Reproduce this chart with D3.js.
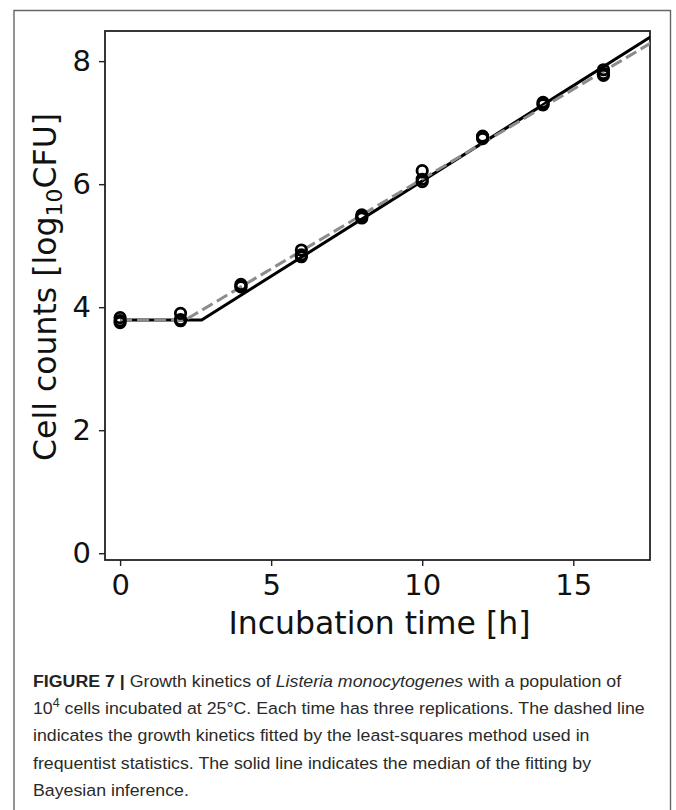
<!DOCTYPE html>
<html>
<head>
<meta charset="utf-8">
<script src="https://cdn.jsdelivr.net/npm/d3@7"></script>
<style>
  html, body { margin: 0; padding: 0; background: #fff; }
  svg { display: block; }
</style>
</head>
<body>
<svg id="chart" width="676" height="810"></svg>
<script>
// ---- data ----
const times = [0, 2, 4, 6, 8, 10, 12, 14, 16];
const rep1 = [3.83, 3.90, 4.37, 4.93, 5.50, 6.22, 6.78, 7.33, 7.86];
const rep2 = [3.78, 3.80, 4.34, 4.85, 5.47, 6.08, 6.76, 7.31, 7.80];
const rep3 = [3.75, 3.78, 4.33, 4.82, 5.45, 6.04, 6.74, 7.29, 7.77];

// fitted curves (breakpoints of the lag + linear growth model)
const bayesTime = [0, 2.7, 18];
const bayesValue = [3.79, 3.79, 8.53];
const lsqTime = [0, 2.15, 18];
const lsqValue = [3.79, 3.79, 8.42];

const xTicks = [0, 5, 10, 15];
const yTicks = [0, 2, 4, 6, 8];
const xLabel = "Incubation time [h]";

// ---- layout ----
const svg = d3.select("#chart");
const plot = { left: 105, right: 650, top: 31, bottom: 560 };

svg.append("rect").attr("width", 676).attr("height", 810).attr("fill", "#fff");

// outer figure frame (open at bottom)
svg.append("path")
  .attr("d", "M14,812 L14,10.5 L670.5,10.5 L670.5,812")
  .attr("fill", "none").attr("stroke", "#666").attr("stroke-width", 1.4);

const x = d3.scaleLinear().domain([-0.5, 17.54]).range([plot.left, plot.right]);
const y = d3.scaleLinear().domain([-0.11, 8.49]).range([plot.bottom, plot.top]);

svg.append("clipPath").attr("id", "clip")
  .append("rect").attr("x", plot.left).attr("y", plot.top)
  .attr("width", plot.right - plot.left).attr("height", plot.bottom - plot.top);

const g = svg.append("g");

// axes
const xAxis = d3.axisBottom(x).tickValues(xTicks).tickSize(6).tickPadding(8).tickFormat(d3.format("d"));
const yAxis = d3.axisLeft(y).tickValues(yTicks).tickSize(6).tickPadding(8).tickFormat(d3.format("d"));

const gx = g.append("g").attr("transform", `translate(0,${plot.bottom})`).call(xAxis);
const gy = g.append("g").attr("transform", `translate(${plot.left},0)`).call(yAxis);
[gx, gy].forEach(a => {
  a.select(".domain").remove();
  a.selectAll(".tick line").attr("stroke", "#222").attr("stroke-width", 1.4);
  a.selectAll(".tick text").attr("font-family", "DejaVu Sans").attr("font-size", 29).attr("fill", "#111");
});
gx.selectAll(".tick text").attr("dy", "0.71em");

// spines (box)
g.append("rect").attr("x", plot.left).attr("y", plot.top)
  .attr("width", plot.right - plot.left).attr("height", plot.bottom - plot.top)
  .attr("fill", "none").attr("stroke", "#222").attr("stroke-width", 1.8);

// lines
const line = d3.line().x(d => x(d[0])).y(d => y(d[1]));
const bayes = bayesTime.map((t, i) => [t, bayesValue[i]]);
const lsq = lsqTime.map((t, i) => [t, lsqValue[i]]);
const lines = g.append("g").attr("clip-path", "url(#clip)");
lines.append("path").datum(bayes).attr("d", line)
  .attr("fill", "none").attr("stroke", "#000").attr("stroke-width", 3);
lines.append("path").datum(lsq).attr("d", line)
  .attr("fill", "none").attr("stroke", "#8c8c8c").attr("stroke-width", 3)
  .attr("stroke-dasharray", "12,5");

// data points
const pts = [];
[rep1, rep2, rep3].forEach(r => r.forEach((v, i) => pts.push([times[i], v])));
g.append("g").selectAll("circle").data(pts).join("circle")
  .attr("cx", d => x(d[0])).attr("cy", d => y(d[1])).attr("r", 5.2)
  .attr("fill", "none").attr("stroke", "#000").attr("stroke-width", 2.8);

// axis labels
g.append("text").attr("x", (plot.left + plot.right) / 2 + 2).attr("y", 634)
  .attr("text-anchor", "middle").attr("font-family", "DejaVu Sans").attr("font-size", 31.5)
  .attr("fill", "#111").text(xLabel);

const yl = g.append("text").attr("transform", `translate(56,${287}) rotate(-90)`)
  .attr("text-anchor", "middle").attr("font-family", "DejaVu Sans").attr("font-size", 31.5)
  .attr("fill", "#111");
yl.append("tspan").text("Cell counts [log");
yl.append("tspan").attr("font-size", 22).attr("dy", 6).text("10");
yl.append("tspan").attr("dy", -6).text("CFU]");

// caption
const cap = svg.append("g").attr("font-family", "Liberation Sans").attr("fill", "#2a2a2a");
const capX = 33, capY0 = 687, capDy = 27.2;
const c1 = cap.append("text").attr("x", capX).attr("y", capY0);
c1.append("tspan").attr("font-weight", "bold").attr("fill", "#222").text("FIGURE 7 |");
c1.append("tspan").text(" Growth kinetics of ");
c1.append("tspan").attr("font-style", "italic").text("Listeria monocytogenes");
c1.append("tspan").text(" with a population of");
const c2 = cap.append("text").attr("x", capX).attr("y", capY0 + capDy);
c2.append("tspan").text("10");
c2.append("tspan").attr("font-size", "0.7em").attr("dy", -7).text("4");
c2.append("tspan").attr("dy", 7).text(" cells incubated at 25°C. Each time has three replications. The dashed line");
cap.append("text").attr("x", capX).attr("y", capY0 + 2 * capDy)
  .text("indicates the growth kinetics fitted by the least-squares method used in");
cap.append("text").attr("x", capX).attr("y", capY0 + 3 * capDy)
  .text("frequentist statistics. The solid line indicates the median of the fitting by");
cap.append("text").attr("x", capX).attr("y", capY0 + 4 * capDy)
  .text("Bayesian inference.");

// fit caption font so line 2 spans to ~x=645 (condensed face in reference)
cap.attr("font-size", 17);
const w = c2.node().getComputedTextLength();
const target = 645 - capX;
const sx = target / w;
cap.attr("transform", `translate(${capX},0) scale(${sx},1) translate(${-capX},0)`);
</script>
</body>
</html>
